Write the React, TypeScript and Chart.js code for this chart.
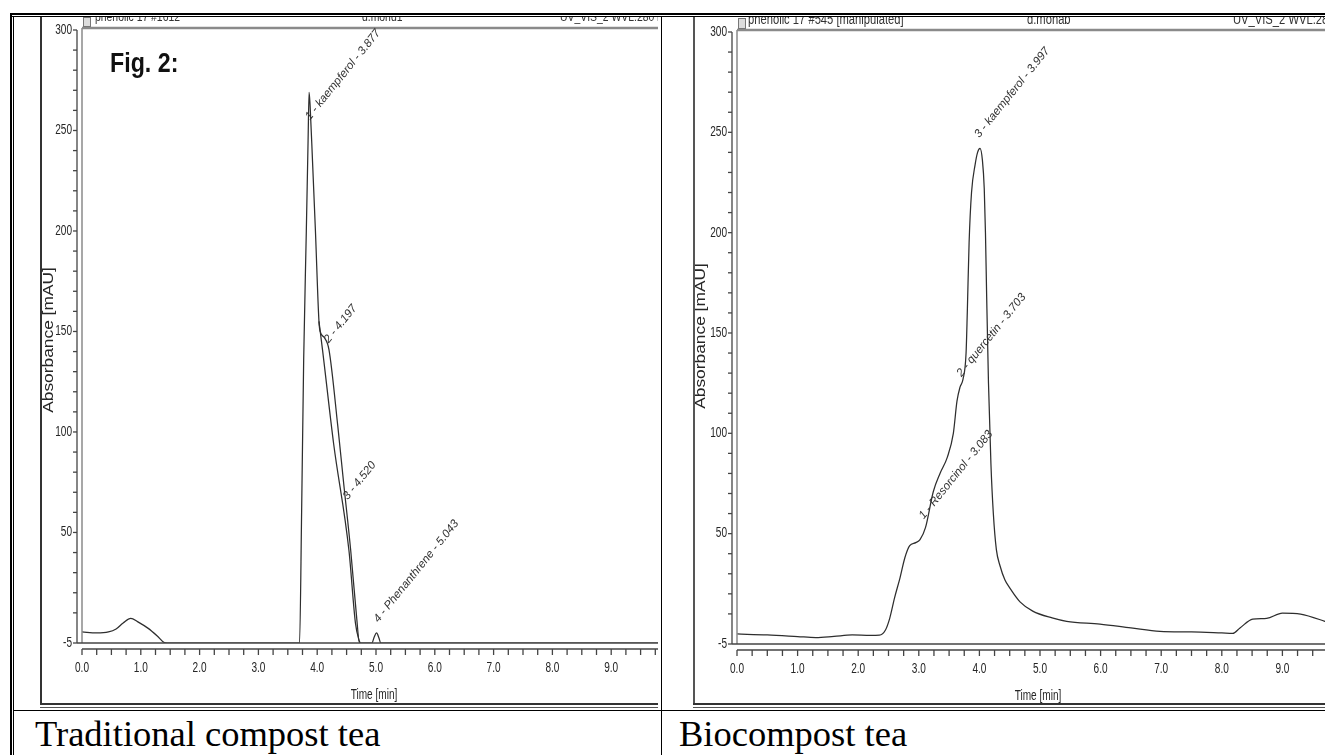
import React, { useEffect, useRef } from "react";
import { Chart, registerables } from "chart.js";

Chart.register(...registerables);

const SANS = '"Liberation Sans", Arial, sans-serif';
const SERIF = '"Liberation Serif", "Times New Roman", serif';

// ---------- Traditional compost tea (left panel) ----------
const tradTime = [0.0, 0.25, 0.45, 0.58, 0.7, 0.83, 0.95, 1.12, 1.28, 1.4, 1.45, 3.7, 3.735, 3.77, 3.815, 3.845, 3.862, 3.88, 3.92, 3.97, 4.03, 4.05, 4.12, 4.2, 4.35, 4.45, 4.57, 4.67, 4.72, 4.93, 4.97, 5.01, 5.05, 5.08, 10.0];
const tradAbs = [0.5, 0, 0.5, 2, 5, 7.3, 5.5, 2.4, -1.5, -4.8, -5, -5, 60, 136, 200, 245, 269, 262, 235, 200, 155, 150, 147, 141, 103, 74.5, 41, 8, -5, -5, -2, 0, -2.5, -5, -5];
const tradSplitTime = [4.03, 4.09, 4.28, 4.54, 4.65, 4.71, 4.73];
const tradSplitAbs = [155, 141, 94, 41, 5, -3.5, -5];
const tradPeakTimes = [3.877, 4.197, 4.52, 5.043];
const tradPeakLevels = [255, 144, 66, 5];
const tradPeakNames = ["1 - kaempferol - 3.877", "2 - 4.197", "3 - 4.520", "4 - Phenanthrene - 5.043"];

// ---------- Biocompost tea (right panel) ----------
const bioTime = [0.0, 0.5, 1.0, 1.3, 1.6, 1.9, 2.2, 2.35, 2.45, 2.52, 2.6, 2.69, 2.77, 2.85, 2.95, 3.02, 3.11, 3.24, 3.35, 3.47, 3.57, 3.63, 3.68, 3.73, 3.78, 3.8, 3.83, 3.87, 3.93, 3.97, 4.01, 4.05, 4.08, 4.1, 4.12, 4.15, 4.19, 4.23, 4.28, 4.34, 4.42, 4.5, 4.67, 4.88, 5.2, 5.44, 5.99, 6.5, 6.98, 7.5, 8.0, 8.18, 8.3, 8.51, 8.74, 9.0, 9.3, 9.7, 10.0];
const bioAbs = [0, -0.5, -1.3, -1.8, -1.2, -0.5, -0.7, -0.6, 2, 7.8, 18, 28, 38, 44, 45.5, 47, 53, 71, 80, 88, 100, 116, 123, 127, 140, 160, 195, 220, 234, 240, 242, 236, 222, 200, 168, 125, 85, 60, 42, 34, 27, 23, 16, 11.4, 8, 6.3, 4.9, 3, 1.3, 1, 0.5, 0.3, 3, 7.4, 7.8, 10.4, 9.9, 6.3, 3];
const bioPeakTimes = [3.083, 3.703, 3.997];
const bioPeakLevels = [57, 128, 247];
const bioPeakNames = ["1 - Resorcinol - 3.083", "2 - quercetin - 3.703", "3 - kaempferol - 3.997"];

// ---------- Axes ----------
const yLabelled = [-5, 50, 100, 150, 200, 250, 300];
const yMinorStep = 10;
const xLabelled = [0, 1, 2, 3, 4, 5, 6, 7, 8, 9, 10];
const xMinorStep = 0.25;

const yTickValues: number[] = [-5];
for (let v = 10; v <= 300; v += yMinorStep) yTickValues.push(v);
const xTickValues: number[] = [];
for (let v = 0; v <= 10.0001; v += xMinorStep) xTickValues.push(Math.round(v * 100) / 100);

type Geom = {
  left: number; width: number; height: number;
  areaLeft: number; areaTop: number; areaRight: number; areaBottom: number;
  yTitleY: number;
};

type Trace = { time: number[]; abs: number[] };

function drawText(ctx: CanvasRenderingContext2D, text: string, x: number, y: number,
  font: string, align: CanvasTextAlign, baseline: CanvasTextBaseline, sx: number, sy: number, rot = 0) {
  ctx.save();
  ctx.translate(x, y);
  if (rot) ctx.rotate(rot);
  ctx.scale(sx, sy);
  ctx.font = font; ctx.textAlign = align; ctx.textBaseline = baseline;
  ctx.fillText(text, 0, 0);
  ctx.restore();
}

function Chromatogram(props: {
  traces: Trace[]; peakTimes: number[]; peakLevels: number[]; peakNames: string[]; g: Geom; top: number;
}) {
  const ref = useRef<HTMLCanvasElement>(null);
  useEffect(() => {
    const { traces, peakTimes, peakLevels, peakNames, g } = props;
    const canvas = ref.current!;
    const line = (ctx: CanvasRenderingContext2D, x1: number, y1: number, x2: number, y2: number) => {
      ctx.beginPath(); ctx.moveTo(x1, y1); ctx.lineTo(x2, y2); ctx.stroke();
    };
    const framePlugin = {
      id: "frame",
      afterDraw(chart: any) {
        const { ctx, chartArea: a, scales } = chart;
        const xs = scales.x, ys = scales.y;
        ctx.save();
        // header bar and frame
        ctx.strokeStyle = "#8a8a8a"; ctx.lineWidth = 2.5;
        line(ctx, a.left, a.top - 2, chart.width, a.top - 2);
        ctx.lineWidth = 1.5;
        line(ctx, a.left, a.top - 2, a.left, a.bottom);
        // y axis
        ctx.strokeStyle = "#444"; ctx.lineWidth = 1.3;
        const ax = a.left - 5;
        line(ctx, ax, a.top, ax, a.bottom);
        ys.ticks.forEach((t: any) => { const y = ys.getPixelForValue(t.value); line(ctx, ax - 4, y, ax, y); });
        // bottom double line and x ticks
        ctx.lineWidth = 1.6;
        line(ctx, ax, a.bottom, chart.width, a.bottom);
        const bx = a.bottom + 6;
        ctx.lineWidth = 1.3;
        line(ctx, a.left, bx, chart.width, bx);
        xs.ticks.forEach((t: any) => { const x = xs.getPixelForValue(t.value); line(ctx, x, bx, x, bx + 6); });
        // tick labels (narrow, tall as in the source image)
        ctx.fillStyle = "#262626";
        const tickFont = `14px ${SANS}`;
        ys.ticks.forEach((t: any) => {
          if (!yLabelled.includes(t.value)) return;
          drawText(ctx, String(t.value), ax - 5, ys.getPixelForValue(t.value), tickFont, "right", "middle", 0.72, 1);
        });
        xs.ticks.forEach((t: any) => {
          if (!xLabelled.includes(t.value)) return;
          drawText(ctx, t.value.toFixed(1), xs.getPixelForValue(t.value), a.bottom + 25, tickFont, "center", "middle", 0.72, 1);
        });
        // axis titles
        drawText(ctx, "Time [min]", (a.left + a.right) / 2 - 2, a.bottom + 52, tickFont, "center", "middle", 0.72, 1);
        drawText(ctx, "Absorbance [mAU]", 7, g.yTitleY, `14px ${SANS}`, "center", "middle", 1.24, 1, -Math.PI / 2);
        // peak labels
        ctx.fillStyle = "#333";
        peakNames.forEach((name, i) => {
          const px = xs.getPixelForValue(peakTimes[i]);
          const py = ys.getPixelForValue(peakLevels[i]);
          drawText(ctx, name, px, py, `italic 11.5px ${SANS}`, "left", "alphabetic", 1, 1, -51 * Math.PI / 180);
        });
        ctx.restore();
      },
    };
    const chart = new Chart(canvas, {
      type: "line",
      data: {
        datasets: traces.map((tr) => ({
          data: tr.time.map((t, i) => ({ x: t, y: tr.abs[i] })),
          borderColor: "#2e2e2e", borderWidth: 1.25, pointRadius: 0, fill: false,
          cubicInterpolationMode: "monotone" as const,
        })),
      },
      options: {
        responsive: false, animation: false, devicePixelRatio: 1,
        layout: { padding: { left: 0, top: g.areaTop, right: g.width - (g.areaRight - g.left), bottom: 0 } },
        plugins: { legend: { display: false }, tooltip: { enabled: false }, title: { display: false } },
        scales: {
          x: {
            type: "linear", min: 0, max: 10,
            afterBuildTicks: (s: any) => { s.ticks = xTickValues.map((v) => ({ value: v })); },
            afterFit: (s: any) => { s.height = g.height - g.areaBottom; },
            grid: { display: false, drawTicks: false }, border: { display: false },
            ticks: { display: false, autoSkip: false },
          },
          y: {
            type: "linear", min: -5, max: 300,
            afterBuildTicks: (s: any) => { s.ticks = yTickValues.map((v) => ({ value: v })); },
            afterFit: (s: any) => { s.width = g.areaLeft - g.left; },
            grid: { display: false, drawTicks: false }, border: { display: false },
            ticks: { display: false, autoSkip: false },
          },
        },
      },
      plugins: [framePlugin],
    } as any);
    return () => chart.destroy();
  }, []);
  return (
    <canvas ref={ref} width={props.g.width} height={props.g.height}
      style={{ position: "absolute", left: 0, top: props.top, width: props.g.width, height: props.g.height }} />
  );
}

const abs = (s: React.CSSProperties): React.CSSProperties => ({ position: "absolute", ...s });

export default function App() {
  const leftG: Geom = { left: 42, width: 700, height: 705, areaLeft: 82, areaTop: 30, areaRight: 670, areaBottom: 643, yTitleY: 340 };
  const rightG: Geom = { left: 694, width: 700, height: 705, areaLeft: 737, areaTop: 32, areaRight: 1343, areaBottom: 644, yTitleY: 336 };
  const hdr = (size: number): React.CSSProperties => ({
    fontFamily: SANS, fontSize: size, lineHeight: "14px", color: "#333", whiteSpace: "nowrap",
    transform: "scaleX(0.8)", transformOrigin: "left top",
  });
  return (
    <div style={abs({ position: "fixed", left: 0, top: 0, width: 1325, height: 755, background: "#fff", overflow: "hidden" })}>
      {/* left chromatogram image */}
      <div style={abs({ left: 42, top: 17, width: 616, height: 688, overflow: "hidden" })}>
        <Chromatogram traces={[{ time: tradTime, abs: tradAbs }, { time: tradSplitTime, abs: tradSplitAbs }]}
          peakTimes={tradPeakTimes} peakLevels={tradPeakLevels} peakNames={tradPeakNames} g={leftG} top={-17} />
        <div style={abs({ left: 41, top: 0, width: 6, height: 8, border: "1px solid #777", background: "#ddd" })} />
        <div style={abs({ left: 53, top: -7, ...hdr(13) })}>phenolic 17 #1612</div>
        <div style={abs({ left: 320, top: -7, ...hdr(13) })}>d.mohd1</div>
        <div style={abs({ left: 518, top: -7, ...hdr(13) })}>UV_VIS_2 WVL:280 nm</div>
      </div>
      {/* right chromatogram image */}
      <div style={abs({ left: 694, top: 17, width: 700, height: 688, overflow: "hidden" })}>
        <Chromatogram traces={[{ time: bioTime, abs: bioAbs }]}
          peakTimes={bioPeakTimes} peakLevels={bioPeakLevels} peakNames={bioPeakNames} g={rightG} top={-17} />
        <div style={abs({ left: 44, top: 1, width: 6, height: 9, border: "1px solid #777", background: "#ddd" })} />
        <div style={abs({ left: 54, top: -5, ...hdr(14) })}>phenolic 17 #545 [manipulated]</div>
        <div style={abs({ left: 333, top: -5, ...hdr(14) })}>d.mohab</div>
        <div style={abs({ left: 539, top: -5, ...hdr(14) })}>UV_VIS_2 WVL:280 nm</div>
      </div>
      {/* image frames */}
      <div style={abs({ left: 40, top: 17, width: 2, height: 688, background: "#333" })} />
      <div style={abs({ left: 40, top: 703, width: 618, height: 2, background: "#333" })} />
      <div style={abs({ left: 40, top: 706.5, width: 618, height: 1, background: "#555" })} />
      <div style={abs({ left: 693, top: 17, width: 2, height: 688, background: "#555" })} />
      <div style={abs({ left: 693, top: 703, width: 640, height: 2, background: "#333" })} />
      <div style={abs({ left: 693, top: 706.5, width: 640, height: 1, background: "#555" })} />
      {/* table lines */}
      <div style={abs({ left: 9.5, top: 12.5, width: 1320, height: 2.5, background: "#000" })} />
      <div style={abs({ left: 9.5, top: 16, width: 1320, height: 1, background: "#000" })} />
      <div style={abs({ left: 9.5, top: 12.5, width: 2, height: 750, background: "#000" })} />
      <div style={abs({ left: 13, top: 16, width: 1, height: 750, background: "#000" })} />
      <div style={abs({ left: 660.5, top: 16, width: 1, height: 750, background: "#000" })} />
      <div style={abs({ left: 13, top: 710, width: 1320, height: 1, background: "#000" })} />
      {/* figure label */}
      <div style={abs({ left: 110, top: 46, fontFamily: SANS, fontWeight: "bold", fontSize: 27, lineHeight: "34px", color: "#111", whiteSpace: "nowrap", transform: "scaleX(0.86)", transformOrigin: "left top" })}>Fig. 2:</div>
      {/* captions */}
      <div style={abs({ left: 35, top: 714, fontFamily: SERIF, fontSize: 36.5, lineHeight: "40px", color: "#000", whiteSpace: "nowrap" })}>Traditional compost tea</div>
      <div style={abs({ left: 679, top: 714, fontFamily: SERIF, fontSize: 36.5, lineHeight: "40px", color: "#000", whiteSpace: "nowrap" })}>Biocompost tea</div>
    </div>
  );
}
